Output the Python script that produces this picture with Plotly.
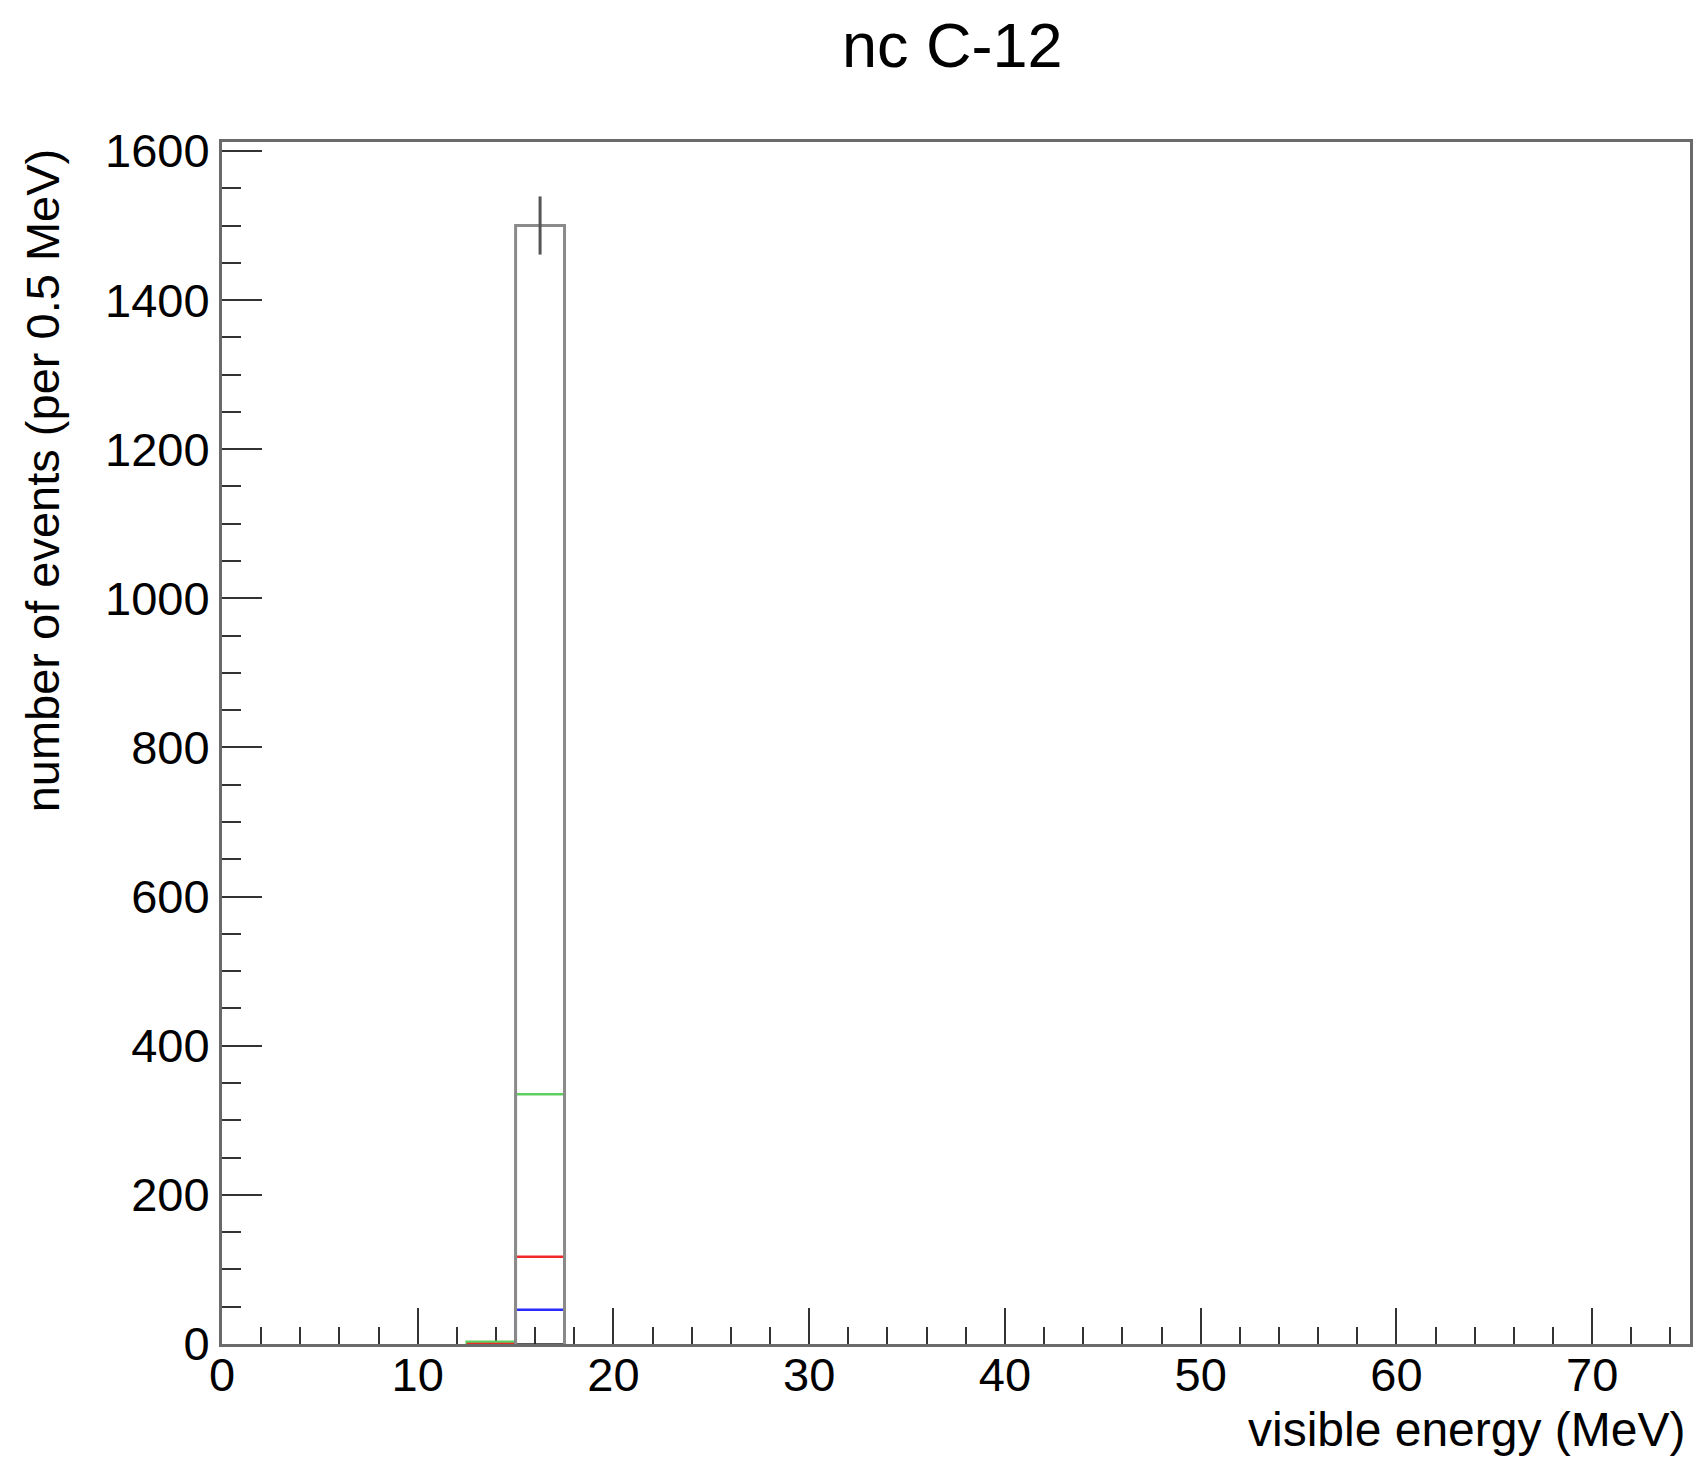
import plotly.graph_objects as go

# ---- data ----
bin_lo = [12.5, 15.0]
bin_hi = [15.0, 17.5]
total_vals = [0, 1500]
total_err = [0, 39]
green_vals = [3, 335]
red_vals = [0, 117]
blue_vals = [0, 46]
black_vals = [0, 0]

green_bins = [0, 1]
red_bins = [0, 1]
blue_bins = [1]
black_bins = [1]
total_bins = [1]

title_text = "nc C-12"
x_title = "visible energy (MeV)"
y_title = "number of events (per 0.5 MeV)"

FONT = "Liberation Sans, Arial, Helvetica, sans-serif"


def step_path(idx, vals):
    xs, ys = [bin_lo[idx[0]]], [0]
    for i in idx:
        xs += [bin_lo[i], bin_hi[i]]
        ys += [vals[i], vals[i]]
    xs.append(bin_hi[idx[-1]])
    ys.append(0)
    return xs, ys


fig = go.Figure()

series = [
    (green_bins, green_vals, "#5fcf5f", 2.5),
    (red_bins, red_vals, "#f02828", 2.5),
    (blue_bins, blue_vals, "#2a2aff", 2.5),
    (black_bins, black_vals, "#222222", 1.5),
]
for idx, vals, col, w in series:
    xs, ys = step_path(idx, vals)
    fig.add_trace(go.Scatter(x=xs, y=ys, mode="lines",
                             line=dict(color=col, width=w), showlegend=False,
                             hoverinfo="skip"))

xs, ys = step_path(total_bins, total_vals)
fig.add_trace(go.Scatter(x=xs, y=ys, mode="lines",
                         line=dict(color="#8a8a8a", width=3), showlegend=False))

# error bar on the filled bin
centers = [(bin_lo[i] + bin_hi[i]) / 2 for i in total_bins]
fig.add_trace(go.Scatter(
    x=centers, y=[total_vals[i] for i in total_bins], mode="markers",
    marker=dict(size=1, color="rgba(0,0,0,0)"),
    error_y=dict(type="data", array=[total_err[i] for i in total_bins],
                 color="#555555", thickness=3, width=0),
    showlegend=False))

fig.update_layout(
    width=1696, height=1458,
    margin=dict(l=222, r=3, t=142, b=114),
    paper_bgcolor="white", plot_bgcolor="white",
    font=dict(family=FONT, color="black"),
    xaxis=dict(range=[0, 75], showgrid=False, zeroline=False,
               showline=True, mirror=True, linecolor="#6a6a6a", linewidth=3,
               ticks="inside", ticklen=36, tickwidth=2, tickcolor="#333",
               tick0=0, dtick=10, tickfont=dict(size=47, family=FONT),
               ticklabelstandoff=-12,
               minor=dict(ticks="inside", ticklen=17, tickwidth=2,
                          tickcolor="#333", dtick=2, showgrid=False),
               layer="below traces"),
    yaxis=dict(range=[0, 1612], showgrid=False, zeroline=False,
               showline=True, mirror=True, linecolor="#6a6a6a", linewidth=3,
               ticks="inside", ticklen=40, tickwidth=2, tickcolor="#333",
               tick0=0, dtick=200, tickfont=dict(size=47, family=FONT),
               minor=dict(ticks="inside", ticklen=19, tickwidth=2,
                          tickcolor="#333", dtick=50, showgrid=False),
               layer="below traces"),
    annotations=[
        dict(text=title_text, xref="paper", yref="paper", x=0.4976, y=1.081,
             xanchor="center", yanchor="middle", showarrow=False,
             font=dict(size=63, family=FONT, color="black")),
        dict(text=x_title, xref="paper", yref="paper", x=1, y=-0.071,
             xanchor="right", yanchor="middle", xshift=-3, showarrow=False,
             font=dict(size=48, family=FONT, color="black")),
        dict(text=y_title, xref="paper", yref="paper", x=-0.1183, y=1,
             xanchor="center", yanchor="top", xshift=-6, yshift=-4,
             textangle=-90,
             showarrow=False, font=dict(size=47, family=FONT, color="black")),
    ],
)

fig.write_html("out.html")
